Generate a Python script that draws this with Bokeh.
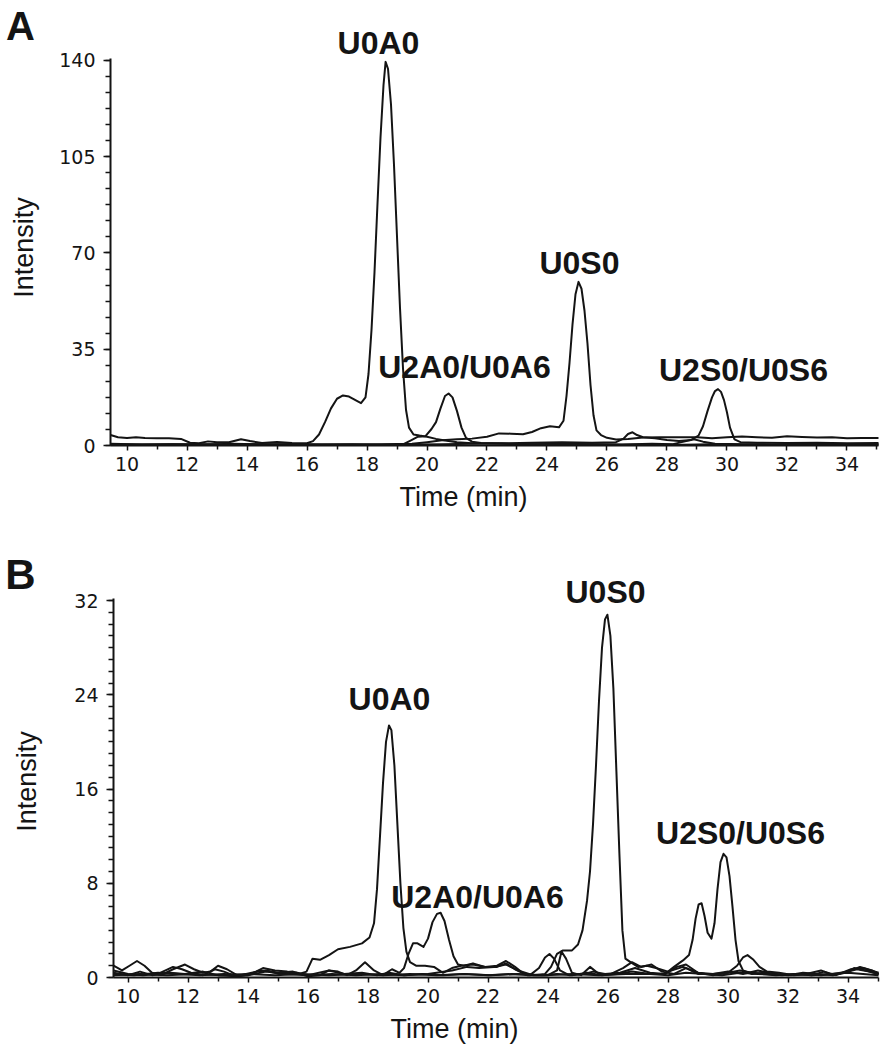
from math import pi
from bokeh.plotting import figure
from bokeh.layouts import column
from bokeh.models import FixedTicker, Label
from bokeh.embed import file_html
from bokeh.resources import INLINE

# ---------------- Panel A data (time in min, intensity) ----------------
tA1 = [9.45, 9.7, 10.0, 10.3, 10.6, 11.0, 11.4, 11.8, 12.1, 12.4, 12.7, 13.0, 13.4, 13.8, 14.1,
       14.5, 15.0, 15.5, 16.0, 16.2, 16.4, 16.6, 16.8, 17.0, 17.2, 17.4, 17.6, 17.8, 17.95, 18.05,
       18.15, 18.25, 18.35, 18.45, 18.55, 18.62, 18.7, 18.8, 18.9, 19.0, 19.1, 19.2, 19.3, 19.4, 19.55,
       19.75, 20.0, 20.3, 20.6, 21.0, 21.5, 22.5, 23.5, 24.5, 25.5, 26.5, 27.5, 28.2, 28.6, 28.9,
       29.2, 29.6, 30.5, 31.5, 32.5, 33.5, 35.05]
iA1 = [3.8, 3.0, 2.7, 3.0, 2.7, 2.6, 2.6, 2.4, 1.0, 0.8, 1.5, 1.2, 1.2, 2.3, 1.6,
       0.9, 1.3, 0.9, 0.8, 1.6, 4.0, 8.5, 13.5, 17.0, 18.2, 17.8, 16.6, 15.4, 17.5, 26,
       42, 63, 88, 112, 131, 139.5, 137, 124, 102, 76, 50, 28, 13, 6.5, 4.0,
       3.6, 3.2, 2.4, 1.8, 1.2, 0.8, 0.6, 0.5, 0.6, 0.5, 0.4, 0.6, 0.5, 1.5, 2.3,
       1.4, 0.6, 0.5, 0.4, 0.5, 0.6, 0.4]

tA2 = [9.45, 10.5, 11.5, 12.5, 13.5, 14.5, 15.5, 16.5, 17.5, 18.5, 19.2, 19.45, 19.7, 19.95, 20.15,
       20.3, 20.45, 20.6, 20.72, 20.85, 21.0, 21.15, 21.3, 21.5, 21.8, 22.5, 23.5, 24.5, 25.5, 26.5,
       27.5, 28.5, 29.5, 30.5, 31.5, 32.5, 33.5, 35.05]
iA2 = [0.6, 0.4, 0.5, 0.3, 0.6, 0.4, 0.5, 0.3, 0.4, 0.3, 0.4, 1.8, 3.2, 3.4, 6.0,
       8.5, 13.5, 18.0, 18.9, 17.5, 12.5, 6.5, 2.8, 1.4, 0.9, 0.7, 0.5, 0.4, 0.5, 0.3,
       0.4, 0.3, 0.5, 0.4, 0.3, 0.4, 0.3, 0.4]

tA3 = [9.45, 10.5, 11.5, 12.5, 13.5, 14.5, 15.5, 16.5, 17.5, 18.5, 19.5, 20.0, 20.5, 21.0, 21.5,
       22.0, 22.4, 22.8, 23.2, 23.5, 23.8, 24.1, 24.4, 24.55, 24.65, 24.75, 24.85, 24.95, 25.05, 25.15,
       25.25, 25.35, 25.45, 25.55, 25.65, 25.8, 26.0, 26.3, 26.7, 27.2, 27.8, 28.4, 29.0, 29.5, 30.0,
       30.5, 31.0, 31.5, 32.0, 32.5, 33.0, 33.5, 34.0, 34.5, 35.05]
iA3 = [0.3, 0.4, 0.3, 0.5, 0.4, 0.3, 0.5, 0.4, 0.3, 0.5, 0.6, 1.2, 1.9, 2.3, 2.5,
       3.2, 4.4, 4.3, 4.1, 4.9, 6.3, 7.0, 6.6, 9.0, 18.0, 30.0, 44.0, 55.0, 59.5, 57.0,
       49.0, 37.0, 22.0, 11.0, 5.5, 3.8, 2.8, 2.2, 2.4, 2.9, 3.0, 3.0, 3.0, 2.6, 3.0,
       3.3, 3.0, 2.8, 3.4, 3.1, 2.9, 3.0, 2.6, 2.7, 2.7]

tA4 = [9.45, 10.5, 11.5, 12.5, 13.5, 14.5, 15.5, 16.5, 17.5, 18.5, 19.5, 20.5, 21.5, 22.5, 23.5,
       24.5, 25.5, 26.3, 26.55, 26.7, 26.85, 27.0, 27.2, 27.6, 28.0, 28.4, 28.8, 29.05, 29.2, 29.35,
       29.5, 29.6, 29.7, 29.8, 29.9, 30.0, 30.1, 30.25, 30.45, 31.0, 32.0, 33.0, 34.0, 35.05]
iA4 = [0.4, 0.3, 0.5, 0.4, 0.3, 0.5, 0.3, 0.4, 0.5, 0.3, 0.4, 0.5, 0.6, 0.8, 1.0,
       1.2, 1.0, 1.2, 2.5, 4.2, 4.8, 3.8, 3.0, 2.6, 2.0, 1.6, 2.0, 3.6, 7.0, 12.5,
       17.5, 19.8, 20.5, 19.5, 16.5, 12.0, 6.5, 2.2, 1.2, 1.0, 0.9, 1.0, 0.8, 0.9]

# ---------------- Panel B data ----------------
tB1 = [9.52, 9.8, 10.05, 10.3, 10.55, 10.8, 11.1, 11.5, 11.9, 12.2, 12.5, 12.75, 13.0, 13.3, 13.7,
       14.1, 14.5, 14.9, 15.3, 15.7, 15.95, 16.15, 16.4, 16.7, 17.0, 17.4, 17.8, 18.05, 18.2, 18.3,
       18.4, 18.5, 18.6, 18.7, 18.78, 18.88, 18.98, 19.08, 19.18, 19.28, 19.4, 19.6, 19.9, 20.2, 20.5,
       20.8, 21.1, 21.5, 21.9, 22.3, 22.6, 22.9, 23.3, 23.8, 24.3, 24.8, 25.3, 25.8, 26.3, 26.8,
       27.4, 28.0, 28.6, 29.2, 29.8, 30.4, 31.0, 31.6, 32.2, 32.8, 33.4, 34.0, 34.5, 35.02]
iB1 = [1.0, 0.6, 1.0, 1.4, 1.0, 0.4, 0.2, 0.7, 1.1, 0.7, 0.4, 0.5, 1.0, 0.7, 0.1,
       0.3, 0.8, 0.6, 0.5, 0.3, 0.5, 1.6, 1.5, 1.9, 2.4, 2.6, 2.9, 3.4, 4.6, 7.5,
       12.0, 16.5, 20.0, 21.4, 21.0, 18.0, 13.0, 8.0, 4.2, 2.2, 1.3, 1.0, 1.0, 0.9, 0.4,
       0.8, 1.0, 1.1, 0.9, 0.9, 1.2, 0.7, 0.2, 0.2, 0.3, 0.2, 0.4, 0.2, 0.3, 0.5,
       0.3, 0.2, 0.4, 0.3, 0.2, 0.4, 0.3, 0.2, 0.3, 0.2, 0.3, 0.4, 0.3, 0.2]

tB2 = [9.52, 10.0, 10.5, 11.0, 11.5, 11.8, 12.1, 12.5, 12.9, 13.2, 13.6, 14.0, 14.4, 14.7, 15.1,
       15.6, 16.0, 16.4, 16.7, 17.0, 17.3, 17.6, 17.9, 18.2, 18.5, 18.8, 19.05, 19.2, 19.35, 19.5,
       19.65, 19.85, 20.0, 20.15, 20.3, 20.42, 20.55, 20.7, 20.85, 21.0, 21.2, 21.5, 21.9, 22.3, 22.6,
       22.9, 23.2, 23.6, 24.0, 24.3, 24.45, 24.6, 24.8, 25.1, 25.4, 25.7, 26.1, 26.5, 26.8, 27.1,
       27.45, 27.8, 28.2, 28.6, 29.0, 29.5, 30.0, 30.5, 31.0, 31.5, 32.0, 32.5, 33.0, 33.5, 34.0,
       34.4, 34.8, 35.02]
iB2 = [0.6, 0.3, 0.2, 0.3, 0.9, 0.7, 0.4, 0.2, 0.7, 0.5, 0.1, 0.2, 0.6, 0.5, 0.3,
       0.4, 0.1, 0.2, 0.6, 0.5, 0.2, 0.6, 1.3, 0.6, 0.2, 0.7, 0.4, 0.8, 2.0, 2.9,
       2.9, 2.6, 3.3, 4.7, 5.4, 5.5, 4.8, 3.2, 1.8, 1.1, 1.0, 1.2, 0.9, 1.0, 1.4,
       0.9, 0.3, 0.2, 0.2, 0.6, 2.2, 1.6, 0.4, 0.2, 0.9, 0.3, 0.3, 0.8, 1.3, 0.9,
       1.1, 0.5, 0.3, 0.8, 0.3, 0.3, 0.5, 0.3, 0.6, 0.3, 0.2, 0.4, 0.3, 0.2, 0.5,
       0.9, 0.6, 0.3]

tB3 = [9.52, 10.2, 11.0, 11.7, 12.4, 13.2, 14.0, 14.6, 15.2, 16.0, 16.8, 17.6, 18.4, 19.2, 20.0,
       20.8, 21.3, 21.7, 22.2, 22.6, 23.0, 23.5, 23.9, 24.1, 24.3, 24.5, 24.8, 25.0, 25.15, 25.3,
       25.4, 25.5, 25.6, 25.7, 25.8, 25.9, 25.98, 26.08, 26.18, 26.28, 26.38, 26.48, 26.58, 26.75, 27.0,
       27.3, 27.6, 28.0, 28.5, 29.0, 29.5, 30.0, 30.4, 30.8, 31.3, 31.8, 32.3, 32.8, 33.2, 33.6,
       34.1, 34.5, 35.02]
iB3 = [0.3, 0.2, 0.4, 0.3, 0.2, 0.3, 0.2, 0.5, 0.3, 0.2, 0.3, 0.2, 0.3, 0.2, 0.3,
       0.6, 0.9, 0.8, 0.9, 1.1, 0.6, 0.2, 0.3, 0.9, 2.0, 2.3, 2.3, 2.8, 4.0, 6.5,
       9.0, 13.0, 18.0, 23.5, 28.0, 30.4, 30.8, 29.0, 24.5, 17.5, 10.5, 4.0, 1.6, 1.3, 0.9,
       1.0, 0.8, 0.5, 0.9, 0.4, 0.3, 0.4, 0.6, 0.4, 0.3, 0.2, 0.3, 0.2, 0.5, 0.2,
       0.7, 0.8, 0.4]

tB4 = [9.52, 10.4, 11.3, 12.2, 13.1, 14.0, 14.9, 15.8, 16.7, 17.6, 18.5, 19.4, 20.3, 21.2, 22.1,
       23.0, 23.9, 24.8, 25.7, 26.6, 27.3, 27.9, 28.2, 28.5, 28.7, 28.82, 28.92, 29.02, 29.12, 29.22,
       29.32, 29.45, 29.55, 29.65, 29.75, 29.85, 29.95, 30.05, 30.15, 30.25, 30.35, 30.5, 30.8, 31.2, 31.6,
       32.1, 32.6, 33.1, 33.5, 33.9, 34.2, 34.6, 35.02]
iB4 = [0.2, 0.3, 0.2, 0.3, 0.2, 0.3, 0.2, 0.3, 0.2, 0.3, 0.2, 0.3, 0.2, 0.3, 0.2,
       0.3, 0.2, 0.3, 0.2, 0.3, 0.3, 0.3, 0.9, 1.45, 1.9, 3.2, 5.0, 6.2, 6.3, 5.2,
       3.8, 3.3, 4.6, 7.5, 9.8, 10.5, 10.2, 8.6, 6.0, 3.2, 1.4, 0.6, 0.3, 0.4, 0.3,
       0.2, 0.3, 0.6, 0.2, 0.4, 0.8, 0.6, 0.3]

tB5 = [9.52, 10.0, 10.4, 10.8, 11.4, 11.9, 12.5, 13.0, 13.6, 14.3, 14.6, 15.0, 15.5, 16.0, 16.7,
       17.2, 17.8, 18.3, 18.7, 19.2, 19.8, 20.5, 21.2, 22.0, 22.8, 23.4, 23.7, 23.9, 24.05, 24.2,
       24.4, 24.7, 25.2, 25.5, 25.9, 26.4, 26.9, 27.4, 27.9, 28.3, 28.6, 29.0, 29.5, 30.0, 30.3,
       30.5, 30.65, 30.85, 31.05, 31.3, 31.7, 32.2, 32.7, 33.1, 33.5, 34.0, 34.3, 34.7, 35.02]
iB5 = [0.4, 0.2, 0.5, 0.2, 0.4, 0.3, 0.5, 0.2, 0.1, 0.5, 0.6, 0.4, 0.5, 0.2, 0.6,
       0.3, 0.4, 0.2, 0.4, 0.2, 0.3, 0.2, 0.3, 0.2, 0.3, 0.2, 0.8, 1.7, 2.0, 1.6,
       0.6, 0.2, 0.3, 0.5, 0.3, 0.4, 0.8, 0.4, 0.3, 0.9, 1.1, 0.4, 0.2, 0.4, 1.0,
       1.7, 1.9, 1.5, 0.9, 0.5, 0.4, 0.2, 0.3, 0.2, 0.3, 0.5, 0.7, 0.5, 0.3]

x_ticks = [10, 12, 14, 16, 18, 20, 22, 24, 26, 28, 30, 32, 34]
x_minor = [11, 13, 15, 17, 19, 21, 23, 25, 27, 29, 31, 33, 35]
yA_ticks = [0, 35, 70, 105, 140]
yB_ticks = [0, 8, 16, 24, 32]

peak_names = ["U0A0", "U2A0/U0A6", "U0S0", "U2S0/U0S6"]
x_title = "Time (min)"
y_title = "Intensity"

INK = "#141414"
TICK_FONT = "DejaVu Sans"
TEXT_FONT = "Liberation Sans"


def make_panel(width, height, x_range, y_range, x_bounds, y_bounds, yticks, yminor):
    p = figure(width=width, height=height, x_range=x_range, y_range=y_range,
               min_border_left=0, min_border_right=0, min_border_top=0, min_border_bottom=0,
               output_backend="svg", toolbar_location=None)
    p.grid.visible = False
    p.outline_line_color = None
    p.background_fill_color = "white"
    p.border_fill_color = "white"
    p.xaxis.ticker = FixedTicker(ticks=x_ticks, minor_ticks=x_minor)
    p.yaxis.ticker = FixedTicker(ticks=yticks, minor_ticks=yminor)
    # axes cross at the chart origin (first time point, intensity 0)
    p.xaxis.fixed_location = y_bounds[0]
    p.yaxis.fixed_location = x_bounds[0]
    p.xaxis.bounds = x_bounds
    p.yaxis.bounds = y_bounds
    for ax in (p.xaxis[0], p.yaxis[0]):
        ax.axis_line_color = INK
        ax.axis_line_width = 2
        ax.major_tick_line_color = INK
        ax.minor_tick_line_color = INK
        ax.major_tick_line_width = 1.5
        ax.minor_tick_line_width = 1.5
        ax.major_tick_in = 0
        ax.minor_tick_in = 0
        ax.major_label_text_font = TICK_FONT
        ax.major_label_text_font_size = "19px"
        ax.major_label_text_color = INK
    p.xaxis.major_tick_out = 5
    p.xaxis.minor_tick_out = 4
    p.xaxis.major_label_standoff = 6
    p.yaxis.major_tick_out = 7
    p.yaxis.minor_tick_out = 5
    p.yaxis.major_label_standoff = 8
    return p


def add_text(p, x, y, text, size, bold=False, angle=0.0):
    p.add_layout(Label(x=x, y=y, text=text, text_font=TEXT_FONT,
                       text_font_size=size, text_font_style="bold" if bold else "normal",
                       text_color=INK, text_align="center", text_baseline="middle",
                       angle=angle))


# ---------------- Figure A (canvas rows 0-530) ----------------
pA = make_panel(880, 530, (5.7833, 35.1167), (-30.909, 161.818), (9.45, 35.05), (0, 140.7),
                yA_ticks, [v * 35 / 6 for v in range(0, 25)])
for t, v in ((tA1, iA1), (tA2, iA2), (tA3, iA3), (tA4, iA4)):
    pA.line(t, v, line_width=2, line_color=INK, line_join="round")

add_text(pA, 18.383, 146.545, peak_names[0], "32px", bold=True)
add_text(pA, 21.25, 28.727, peak_names[1], "32px", bold=True)
add_text(pA, 25.083, 66.182, peak_names[2], "32px", bold=True)
add_text(pA, 30.55, 27.636, peak_names[3], "32px", bold=True)
add_text(pA, 6.45, 152.727, "A", "40px", bold=True)
add_text(pA, 21.217, -18.909, x_title, "27px")
add_text(pA, 6.55, 72.0, y_title, "27px", angle=pi / 2)

# ---------------- Figure B (canvas rows 530-1048) ----------------
pB = make_panel(880, 518, (5.75, 35.0833), (-6.027, 37.946), (9.517, 35.017), (0, 32.17),
                yB_ticks, list(range(0, 33)))
for t, v in ((tB1, iB1), (tB2, iB2), (tB3, iB3), (tB4, iB4), (tB5, iB5)):
    pB.line(t, v, line_width=2, line_color=INK, line_join="round")

add_text(pB, 18.717, 23.684, peak_names[0], "32px", bold=True)
add_text(pB, 21.65, 6.876, peak_names[1], "32px", bold=True)
add_text(pB, 25.917, 32.683, peak_names[2], "32px", bold=True)
add_text(pB, 30.417, 12.309, peak_names[3], "32px", bold=True)
add_text(pB, 6.417, 34.211, "B", "42px", bold=True)
add_text(pB, 20.883, -4.414, x_title, "27px")
add_text(pB, 6.617, 16.638, y_title, "27px", angle=pi / 2)

layout = column(pA, pB, spacing=0)
open("out.html", "w").write(file_html(layout, INLINE))
